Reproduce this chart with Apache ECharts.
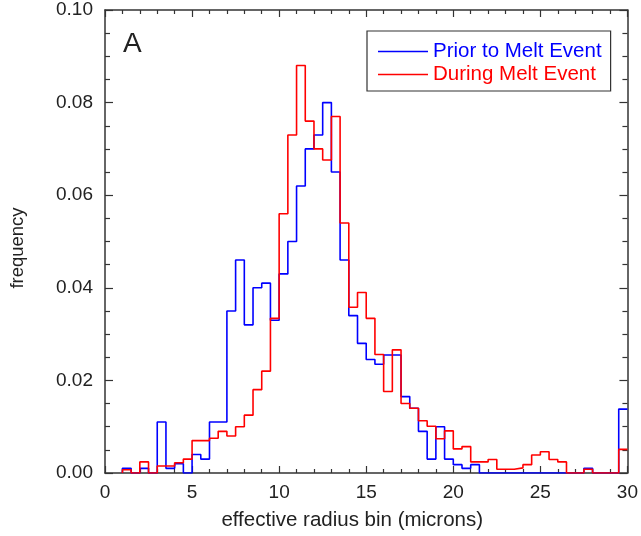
<!DOCTYPE html>
<html>
<head>
<meta charset="utf-8">
<script src="https://cdn.jsdelivr.net/npm/echarts@6/dist/echarts.min.js"></script>
<style>
  html, body { margin: 0; padding: 0; background: #fff; }
  #main { width: 641px; height: 536px; }
</style>
</head>
<body>
<div id="main"></div>
<script>
// bins are 0.5 micron wide, left edges from 1.0 to 29.5
const binWidth = 0.5;
const binLeft = Array.from({ length: 58 }, (_, i) => 1 + i * binWidth);

// frequency per bin
const priorMelt = [
  0.001, 0, 0.001, 0, 0.011, 0.001, 0.002, 0, 0.004, 0.003,
  0.011, 0.011, 0.035, 0.046, 0.032, 0.040, 0.041, 0.033, 0.043, 0.050,
  0.062, 0.070, 0.073, 0.080, 0.065, 0.046, 0.034, 0.028, 0.0245, 0.0235,
  0.0255, 0.0255, 0.0165, 0.014, 0.009, 0.003, 0.010, 0.003, 0.0018, 0.001,
  0.0018, 0, 0, 0, 0, 0, 0, 0, 0, 0,
  0, 0, 0, 0.001, 0, 0, 0, 0.0138
];
const duringMelt = [
  0.0007, 0, 0.0024, 0, 0.0015, 0.0015, 0.0022, 0.003, 0.007, 0.007,
  0.0075, 0.009, 0.008, 0.010, 0.0125, 0.018, 0.022, 0.0334, 0.056, 0.073,
  0.088, 0.076, 0.070, 0.0676, 0.077, 0.054, 0.0358, 0.039, 0.0334, 0.0256,
  0.0176, 0.0266, 0.015, 0.014, 0.0113, 0.0101, 0.0074, 0.0091, 0.0052, 0.0057,
  0.0024, 0.0024, 0.0029, 0.0008, 0.0008, 0.0011, 0.0018, 0.0039, 0.0046, 0.0029,
  0.0024, 0, 0, 0.0008, 0, 0, 0, 0.0051
];

const seriesNames = ['Prior to Melt Event', 'During Melt Event'];
const seriesColors = ['#0000ff', '#ff0000'];

// turn bin values into step points: start at baseline, end at the last bin's right edge
function stepData(vals) {
  const pts = [[binLeft[0], 0]];
  vals.forEach((v, i) => pts.push([binLeft[i], v]));
  pts.push([binLeft[vals.length - 1] + binWidth, vals[vals.length - 1]]);
  return pts;
}

const font = 'Liberation Sans, Arial, Helvetica, sans-serif';
const axisColor = '#333';

const chart = echarts.init(document.getElementById('main'));

const baseAxisLine = { show: true, onZero: false, lineStyle: { color: axisColor, width: 1.5 } };

chart.setOption({
  animation: false,
  textStyle: { fontFamily: font },
  grid: { left: 105, right: 10, top: 10, bottom: 61 },
  legend: {
    orient: 'vertical',
    left: 367,
    top: 31,
    padding: [10, 9, 6, 11],
    icon: 'rect',
    itemWidth: 50,
    itemHeight: 1.6,
    itemGap: 2,
    borderColor: '#333',
    borderWidth: 1.2,
    textStyle: { fontSize: 20.5, fontFamily: font },
    data: seriesNames.map((n, i) => ({ name: n, textStyle: { color: seriesColors[i] } }))
  },
  graphic: [{
    type: 'text', left: 123, top: 30,
    style: { text: 'A', font: '28px ' + font, fill: '#222' }
  }],
  xAxis: [{
    type: 'value', min: 0, max: 30, interval: 5,
    name: 'effective radius bin (microns)',
    nameLocation: 'middle', nameGap: 37,
    nameTextStyle: { fontSize: 20.5, color: '#222', padding: [0, 28, 0, 0] },
    axisLine: baseAxisLine,
    axisTick: { inside: true, length: 7, lineStyle: { color: axisColor, width: 1.2 } },
    minorTick: { show: true, splitNumber: 5, length: 4, lineStyle: { color: axisColor, width: 1.2 } },
    axisLabel: { fontSize: 19, color: '#222', margin: 10 },
    splitLine: { show: false }
  }, {
    type: 'value', min: 0, max: 30, interval: 5, position: 'top',
    axisLine: baseAxisLine,
    axisTick: { inside: true, length: 7, lineStyle: { color: axisColor, width: 1.2 } },
    minorTick: { show: true, splitNumber: 5, length: 4, lineStyle: { color: axisColor, width: 1.2 } },
    axisLabel: { show: false },
    splitLine: { show: false }
  }],
  yAxis: [{
    type: 'value', min: 0, max: 0.1, interval: 0.02,
    name: 'frequency',
    nameLocation: 'middle', nameGap: 78,
    nameTextStyle: { fontSize: 18.5, color: '#222', padding: [0, 13, 0, 0] },
    axisLine: baseAxisLine,
    axisTick: { inside: true, length: 8, lineStyle: { color: axisColor, width: 1.2 } },
    minorTick: { show: true, splitNumber: 4, length: 5, lineStyle: { color: axisColor, width: 1.2 } },
    axisLabel: { fontSize: 19, color: '#222', margin: 12, formatter: v => v.toFixed(2) },
    splitLine: { show: false }
  }, {
    type: 'value', min: 0, max: 0.1, interval: 0.02, position: 'right',
    axisLine: baseAxisLine,
    axisTick: { inside: true, length: 8, lineStyle: { color: axisColor, width: 1.2 } },
    minorTick: { show: true, splitNumber: 4, length: 5, lineStyle: { color: axisColor, width: 1.2 } },
    axisLabel: { show: false },
    splitLine: { show: false }
  }],
  series: [
    {
      name: seriesNames[0], type: 'line', step: 'end', symbol: 'none',
      data: stepData(priorMelt),
      itemStyle: { color: seriesColors[0] },
      lineStyle: { color: seriesColors[0], width: 1.6 }
    },
    {
      name: seriesNames[1], type: 'line', step: 'end', symbol: 'none',
      data: stepData(duringMelt),
      itemStyle: { color: seriesColors[1] },
      lineStyle: { color: seriesColors[1], width: 1.6 }
    }
  ]
});
</script>
</body>
</html>
